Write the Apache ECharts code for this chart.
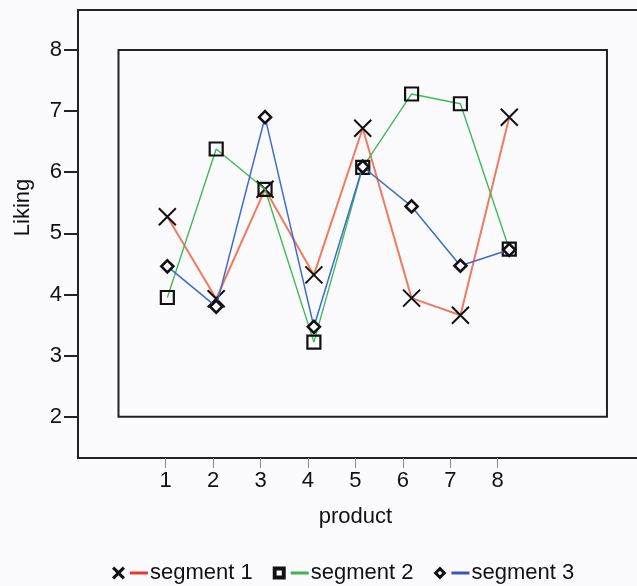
<!DOCTYPE html>
<html>
<head>
<meta charset="utf-8">
<script src="https://cdn.jsdelivr.net/npm/echarts@6/dist/echarts.min.js"></script>
<style>
html,body{margin:0;padding:0;background:#fbfbfd;}
#c{width:637px;height:586px;}
</style>
</head>
<body>
<div id="c"></div>
<script>
const products = [1, 2, 3, 4, 5, 6, 7, 8];
const segment1 = [5.27, 3.93, 5.72, 4.32, 6.72, 3.94, 3.66, 6.90];
const segment2 = [3.95, 6.38, 5.72, 3.22, 6.08, 7.28, 7.12, 4.74];
const segment3 = [4.46, 3.80, 6.90, 3.47, 6.09, 5.44, 4.47, 4.73];
const yTickValues = [2, 3, 4, 5, 6, 7, 8];
const xTickValues = [1, 2, 3, 4, 5, 6, 7, 8];
const seriesNames = ['segment 1', 'segment 2', 'segment 3'];
const innerFrame = [[0, 2], [10, 8]];

const FONT = 'Liberation Sans, Arial, Helvetica, sans-serif';
const lineColors = ['#f27a5e', '#3dbb55', '#3a6ccf'];
const legendColors = ['#e8392c', '#3cb54c', '#3a55c2'];

const pairs = arr => products.map((p, i) => [p, arr[i]]);

const chart = echarts.init(document.getElementById('c'), null, {renderer: 'canvas'});

const option = {
  backgroundColor: '#fbfbfd',
  animation: false,
  grid: {
    left: 78, top: 10, bottom: 128, width: 600,
    outerBoundsMode: 'none', containLabel: false,
    show: false
  },
  xAxis: [
    {
      type: 'value', min: -0.849, max: 11.801,
      axisLine: {show: true, onZero: false, lineStyle: {color: '#222', width: 2}},
      axisTick: {show: true, customValues: xTickValues, length: 10, lineStyle: {color: '#888', width: 1}},
      axisLabel: {show: true, customValues: xTickValues, margin: 12, fontSize: 22, color: '#111', fontFamily: FONT},
      splitLine: {show: false},
      name: 'product', nameLocation: 'middle', nameGap: 48,
      nameTextStyle: {fontSize: 22, color: '#111', fontFamily: FONT, padding: [0, 45, 0, 0]}
    },
    {
      type: 'value', min: -0.829, max: 11.454, show: false,
      splitLine: {show: false}
    },
    {
      type: 'value', position: 'top', min: 0, max: 1,
      axisLine: {show: true, onZero: false, lineStyle: {color: '#222', width: 2}},
      axisTick: {show: false}, axisLabel: {show: false}, splitLine: {show: false}
    }
  ],
  yAxis: {
    type: 'value', min: 1.324, max: 8.654,
    axisLine: {show: true, onZero: false, lineStyle: {color: '#222', width: 2}},
    axisTick: {show: true, customValues: yTickValues, length: 14, lineStyle: {color: '#222', width: 2}},
    axisLabel: {show: true, customValues: yTickValues, margin: 16, fontSize: 22, color: '#111', fontFamily: FONT},
    splitLine: {show: false},
    name: 'Liking', nameLocation: 'middle', nameGap: 44,
    nameTextStyle: {fontSize: 22, color: '#111', fontFamily: FONT, padding: [0, 0, 0, 53]}
  },
  legend: {
    left: 112, top: 562, padding: 0, itemGap: 20, itemWidth: 13, itemHeight: 13,
    data: [
      {name: seriesNames[0], icon: 'path://M0,1.7L1.7,0L5,3.3L8.3,0L10,1.7L6.7,5L10,8.3L8.3,10L5,6.7L1.7,10L0,8.3L3.3,5Z', itemStyle: {color: '#111', borderWidth: 0}},
      {name: seriesNames[1], icon: 'path://M0,0L10,0L10,10L0,10Z M3,3L3,7L7,7L7,3Z', itemStyle: {color: '#111', borderWidth: 0}},
      {name: seriesNames[2], icon: 'path://M5,0L10,5L5,10L0,5Z M5,3.2L3.2,5L5,6.8L6.8,5Z', itemStyle: {color: '#111', borderWidth: 0}}
    ],
    formatter: name => {
      const k = ['r', 'g', 'b'][seriesNames.indexOf(name)];
      return '{' + k + '| }{t|' + name + '}';
    },
    textStyle: {
      fontSize: 22, color: '#111', fontFamily: FONT,
      rich: {
        r: {width: 18, height: 3, backgroundColor: legendColors[0], verticalAlign: 'middle'},
        g: {width: 18, height: 3, backgroundColor: legendColors[1], verticalAlign: 'middle'},
        b: {width: 18, height: 3, backgroundColor: legendColors[2], verticalAlign: 'middle'},
        t: {fontSize: 22, color: '#111', fontFamily: FONT, padding: [0, 0, 0, 2], verticalAlign: 'middle'}
      }
    }
  },
  series: [
    {
      name: seriesNames[1], type: 'line', xAxisIndex: 1, data: pairs(segment2),
      symbol: 'rect', symbolSize: 13,
      itemStyle: {color: 'rgba(0,0,0,0)', borderColor: '#111', borderWidth: 2.2},
      lineStyle: {color: lineColors[1], width: 1.4},
      z: 3
    },
    {
      name: seriesNames[2], type: 'line', xAxisIndex: 1, data: pairs(segment3),
      symbol: 'diamond', symbolSize: 12,
      itemStyle: {color: '#fbfbfd', borderColor: '#111', borderWidth: 2.6},
      lineStyle: {color: lineColors[2], width: 1.5},
      z: 4
    },
    {
      name: seriesNames[0], type: 'line', xAxisIndex: 1, data: pairs(segment1),
      symbol: 'path://M0,0L10,10M10,0L0,10', symbolSize: 17,
      itemStyle: {color: 'rgba(0,0,0,0)', borderColor: '#111', borderWidth: 2},
      lineStyle: {color: lineColors[0], width: 2},
      z: 2,
      markArea: {
        silent: true,
        itemStyle: {color: 'rgba(0,0,0,0)', borderColor: '#222', borderWidth: 2},
        data: [[{coord: innerFrame[0]}, {coord: innerFrame[1]}]]
      }
    }
  ]
};
chart.setOption(option);
</script>
</body>
</html>
